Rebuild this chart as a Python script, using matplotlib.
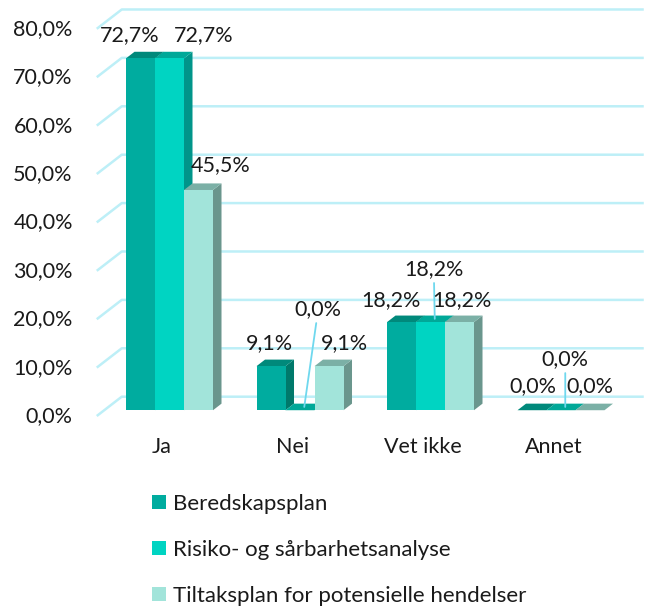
import matplotlib
matplotlib.use("Agg")
import matplotlib.pyplot as plt
from matplotlib.patches import Polygon, Patch

plt.rcParams['font.family'] = ['Lato', 'DejaVu Sans']

# data
categories = ["Ja", "Nei", "Vet ikke", "Annet"]
series = ["Beredskapsplan", "Risiko- og sårbarhetsanalyse",
          "Tiltaksplan for potensielle hendelser"]
values = [
    [72.7, 9.1, 18.2, 0.0],   # Beredskapsplan
    [72.7, 0.0, 18.2, 0.0],   # Risiko- og sårbarhetsanalyse
    [45.5, 9.1, 18.2, 0.0],   # Tiltaksplan
]
yticks = [0, 10, 20, 30, 40, 50, 60, 70, 80]

# label offsets in pixels (dx, dy) relative to bar top, and leader-line flag
label_off = [
    [(-11, 23, False), (-2, 23, False), (-11, 22, False), (1, 24, False)],
    [(34, 23, False), (14, 98, True), (-1, 50, True), (0, 48, True)],
    [(22, 25, False), (15, 23, False), (2, 22, False), (0, 24, False)],
]

front_c = ['#00AC9F', '#00D4C2', '#A2E4DA']
top_c = ['#00897B', '#00A898', '#7BB0A6']
side_c = ['#00796B', '#00958A', '#6A968D']
grid_c = '#BDEFF7'
leader_c = '#6FD8EE'
FS = 15.5

# pseudo 3D geometry (depth offsets in data units)
DX, DY = 0.1916, 3.99
d0, d1 = 0.30, 0.64
w = 0.2222


def proj(x, v, d):
    return (x + d * DX, v + d * DY)


fig = plt.figure(figsize=(6.45, 6.10), dpi=100)
ax = fig.add_axes([0, 0, 1, 1])
ax.set_xlim(-1.2414, 3.7011)
ax.set_ylim(-40.08, 85.95)
ax.axis('off')

# walls / gridlines
for t in yticks:
    pts = [proj(-0.5, t, 0), proj(-0.5, t, 1), proj(3.5, t, 1)]
    ax.plot([p[0] for p in pts], [p[1] for p in pts], color=grid_c, lw=1.8,
            zorder=1, solid_capstyle='butt')
    ax.annotate(f"{t:.1f}%".replace('.', ','), xy=proj(-0.5, t, 0),
                xytext=(-24, 0), textcoords='offset pixels',
                ha='right', va='center', fontsize=FS, color='#1a1a1a')

# bars
z = 2
for i, cat in enumerate(categories):
    for j in range(3):
        v = values[j][i]
        x0 = i + (j - 1.5) * w
        x1 = x0 + w
        side = [proj(x1, 0, d0), proj(x1, v, d0), proj(x1, v, d1), proj(x1, 0, d1)]
        top = [proj(x0, v, d0), proj(x1, v, d0), proj(x1, v, d1), proj(x0, v, d1)]
        front = [proj(x0, 0, d0), proj(x1, 0, d0), proj(x1, v, d0), proj(x0, v, d0)]
        ax.add_patch(Polygon(side, closed=True, fc=side_c[j], ec='none', zorder=z))
        ax.add_patch(Polygon(top, closed=True, fc=top_c[j], ec='none', zorder=z + 0.1))
        if v > 0:
            ax.add_patch(Polygon(front, closed=True, fc=front_c[j], ec='none', zorder=z + 0.2))
        z += 1

# data labels
for i in range(len(categories)):
    for j in range(3):
        v = values[j][i]
        xc = i + (j - 1) * w
        dx, dy, lead = label_off[j][i]
        anchor = proj(xc, v, d0)
        txt = f"{v:.1f}%".replace('.', ',')
        if lead:
            ax.annotate(txt, xy=proj(xc, v, (d0 + d1) / 2),
                        xytext=(dx, dy), textcoords='offset pixels',
                        ha='center', va='center', fontsize=FS, color='#1a1a1a',
                        zorder=50,
                        arrowprops=dict(arrowstyle='-', color=leader_c, lw=1.3,
                                        shrinkA=1, shrinkB=0))
        else:
            ax.annotate(txt, xy=anchor, xytext=(dx, dy), textcoords='offset pixels',
                        ha='center', va='center', fontsize=FS, color='#1a1a1a',
                        zorder=50)

# category labels
for i, cat in enumerate(categories):
    ax.annotate(cat, xy=proj(i, 0, 0), xytext=(0, -31), textcoords='offset pixels',
                ha='center', va='center', fontsize=FS, color='#1a1a1a')

# legend
handles = [Patch(facecolor=front_c[j], edgecolor='none') for j in range(3)]
fig.legend(handles, series, loc='upper left', bbox_to_anchor=(152 / 645, 1 - 494 / 610),
           frameon=False, fontsize=16, handlelength=0.62, handleheight=0.62,
           handletextpad=0.32, labelspacing=1.16, borderpad=0, borderaxespad=0,
           labelcolor='#1a1a1a')

plt.savefig("out.png", dpi=100)
